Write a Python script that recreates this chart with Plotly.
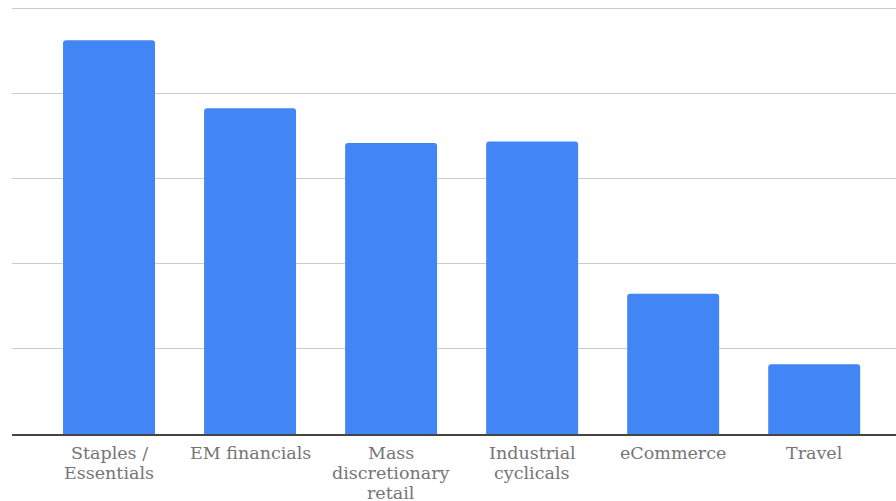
import plotly.graph_objects as go

categories = ["Staples / Essentials", "EM financials", "Mass discretionary retail",
              "Industrial cyclicals", "eCommerce", "Travel"]
label_lines = [["Staples /", "Essentials"], ["EM financials"], ["Mass", "discretionary", "retail"],
               ["Industrial", "cyclicals"], ["eCommerce"], ["Travel"]]
values = [4.63, 3.83, 3.42, 3.44, 1.65, 0.82]

fig = go.Figure(go.Bar(
    x=categories, y=values,
    marker=dict(color="#4285F4", cornerradius=3, line=dict(width=0)),
    hoverinfo="skip",
))

for cat, lines in zip(categories, label_lines):
    for i, line in enumerate(lines):
        fig.add_annotation(
            x=cat, y=0, xref="x", yref="y", text=line, showarrow=False,
            yanchor="middle", xanchor="center", yshift=-(19 + 20 * i),
            font=dict(family="DejaVu Serif", size=17.5, color="#757575"),
        )

fig.update_layout(
    width=896, height=501,
    margin=dict(l=12, r=0, t=7, b=67),
    paper_bgcolor="white", plot_bgcolor="white",
    bargap=0.348,
    showlegend=False,
    font=dict(family="DejaVu Serif", size=17.5, color="#757575"),
)
fig.update_xaxes(
    type="category",
    range=[-0.688, 5.58],
    showline=True, linecolor="#444444", linewidth=2,
    showgrid=False, ticks="", showticklabels=False,
)
fig.update_yaxes(
    range=[0, 5.02], dtick=1, tick0=0,
    showgrid=True, gridcolor="#cccccc", gridwidth=1,
    showticklabels=False, zeroline=False, ticks="",
)

fig.write_html("out.html", config={"displayModeBar": False},
               post_script="document.body.style.margin='0';")
